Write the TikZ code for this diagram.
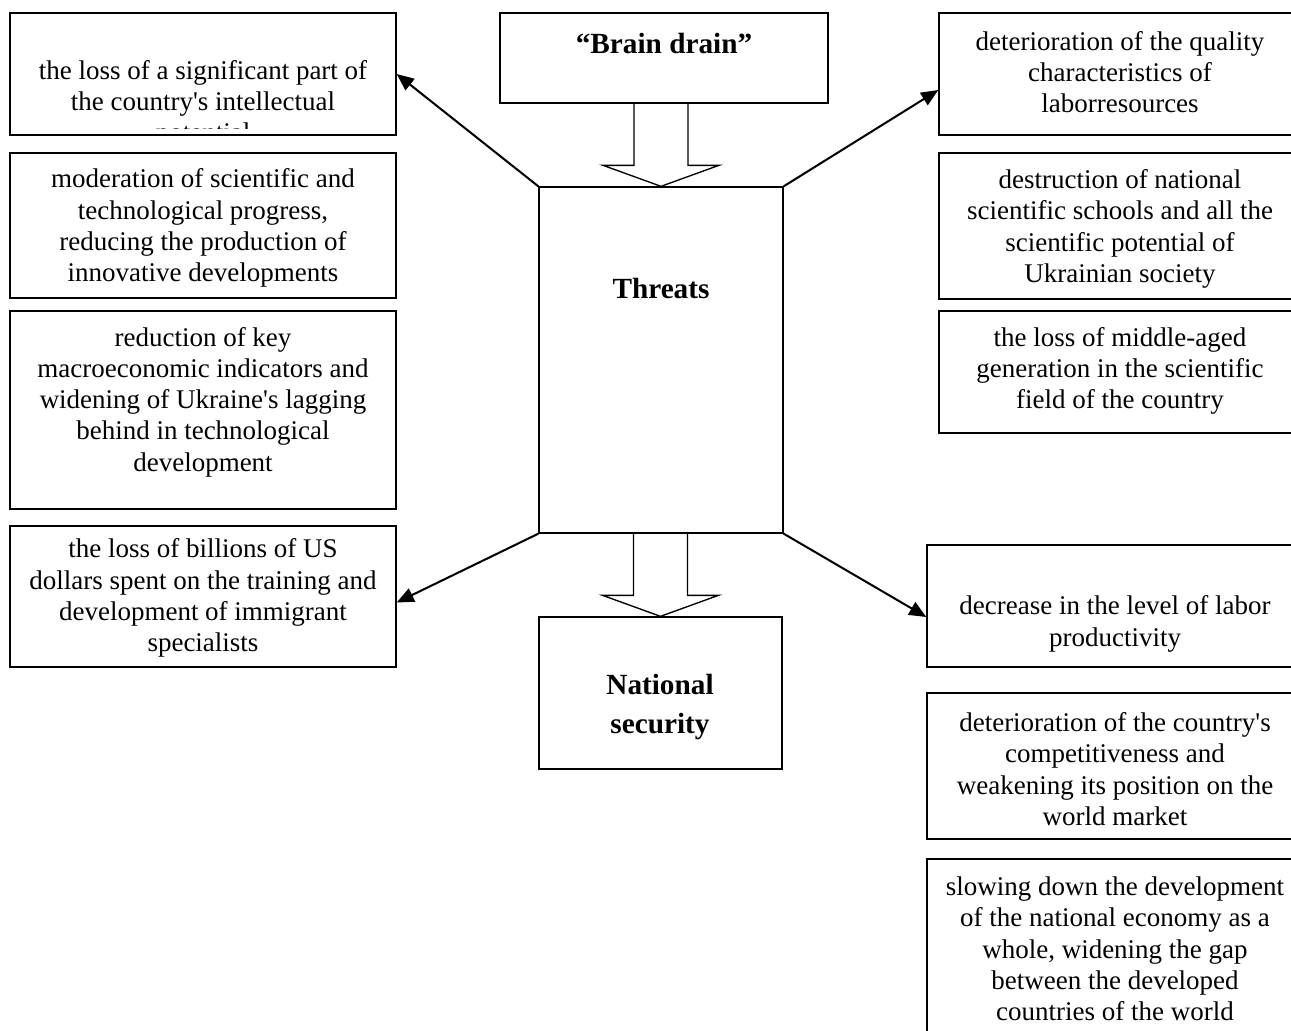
\documentclass[tikz,border=0pt]{standalone}
\usepackage{fontspec}
\setmainfont{Liberation Serif}
\usetikzlibrary{arrows.meta, calc, fit}

\tikzset{
  box/.style={rectangle, draw, line width=0.6pt, inner sep=0pt},
  txt/.style={align=center, inner sep=0pt, font=\fontsize{12}{13.9}\selectfont},
  head/.style={align=center, inner sep=0pt, font=\fontsize{13}{16.9}\selectfont\bfseries},
  link/.style={line width=0.9pt, -{Triangle[length=7.6pt, width=6.4pt]}},
  hollow/.style={line width=0.6pt, line join=miter},
}

\begin{document}
\begin{tikzpicture}[x=0.4445pt, y=-0.4445pt]
\useasboundingbox (0,0) rectangle (1291,1030);

% centre column
\node[box, fit={(500,13) (828,103)}] (brain) {};
\node[head] (brainT) at (664,43) {“Brain drain”};
\node[box, fit={(539,187) (783,533)}] (threats) {};
\node[head] (threatsT) at (661,288) {Threats};
\node[box, fit={(539,617) (782,769)}] (natsec) {};
\node[head] (natsecT) at (660,707) {National\\security};

% left column
\node[box, fit={(10,13) (396,135)}] (lossPot) {};
\begin{scope}
\clip (10,13) rectangle (396,128);
\node[txt] (lossPotT) at (203,104) {the loss of a significant part of\\the country\textquotesingle s intellectual\\potential};
\end{scope}
\node[box, fit={(10,153) (396,298)}] (progress) {};
\node[txt] (progressT) at (203,228) {moderation of scientific and\\technological progress,\\reducing the production of\\innovative developments};
\node[box, fit={(10,311) (396,509)}] (macro) {};
\node[txt] (macroT) at (203,402) {reduction of key\\macroeconomic indicators and\\widening of Ukraine\textquotesingle s lagging\\behind in technological\\development};
\node[box, fit={(10,526) (396,667)}] (dollars) {};
\node[txt] (dollarsT) at (203,598) {the loss of billions of US\\dollars spent on the training and\\development of immigrant\\specialists};

% right column
\node[box, fit={(939,13) (1301,135)}] (quality) {};
\node[txt] (qualityT) at (1120,72) {deterioration of the quality\\characteristics of\\laborresources};
\node[box, fit={(939,153) (1301,299)}] (schools) {};
\node[txt] (schoolsT) at (1120,229) {destruction of national\\scientific schools and all the\\scientific potential of\\Ukrainian society};
\node[box, fit={(939,311) (1301,433)}] (middle) {};
\node[txt] (middleT) at (1120,371) {the loss of middle-aged\\generation in the scientific\\field of the country};
\node[box, fit={(927,545) (1303,667)}] (prod) {};
\node[txt] (prodT) at (1115,624) {decrease in the level of labor\\productivity};
\node[box, fit={(927,693) (1303,839)}] (compet) {};
\node[txt] (competT) at (1115,769) {deterioration of the country\textquotesingle s\\competitiveness and\\weakening its position on the\\world market};
\node[box, fit={(927,859) (1303,1045)}] (slowing) {};
\node[txt] (slowingT) at (1115,949) {slowing down the development\\of the national economy as a\\whole, widening the gap\\between the developed\\countries of the world};

% hollow block arrows
\draw[hollow] ($(threats.north)+(-27,-84)$) -- ++(0,63) -- ++(-31,0) -- (threats.north)
  -- ($(threats.north)+(58,-21)$) -- ++(-31,0) -- ++(0,-63);
\draw[hollow] ($(natsec.north)+(-27,-84)$) -- ++(0,63) -- ++(-31,0) -- (natsec.north)
  -- ($(natsec.north)+(58,-21)$) -- ++(-31,0) -- ++(0,-63);

% threats
\draw[link] (threats.north west) -- (lossPot.east);
\draw[link] (threats.north east) -- ($(quality.west)+(0,16)$);
\draw[link] (threats.south west) -- ($(dollars.east)+(0,6)$);
\draw[link] (threats.south east) -- ($(prod.west)+(0,11)$);

\end{tikzpicture}
\end{document}
